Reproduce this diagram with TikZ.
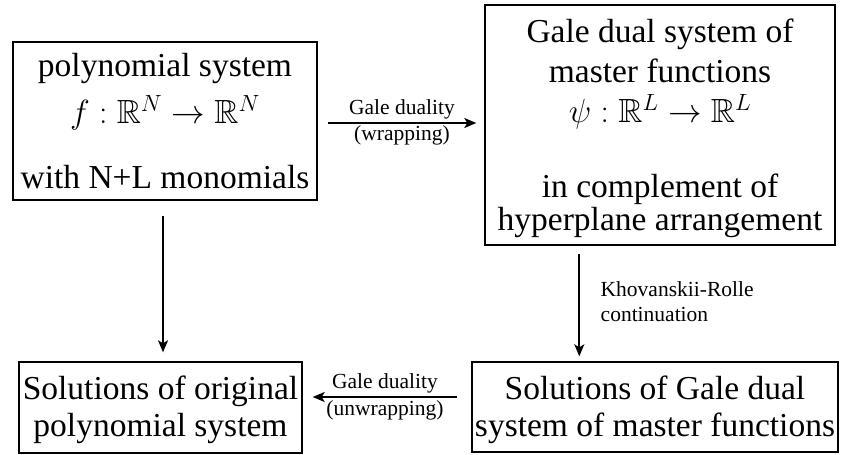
\RequirePackage{fix-cm}
\documentclass[tikz,border=0pt]{standalone}
\usepackage{amsmath,amssymb}
\DeclareFontFamily{U}{msb}{}
\DeclareFontShape{U}{msb}{m}{n}{<-6> msbm5 <6-8> msbm7 <8-> msbm10}{}
\usepackage{fontspec}
\setmainfont{Liberation Serif}
\usetikzlibrary{arrows.meta,positioning,calc}
\tikzset{
  blk/.style={draw,rectangle,line width=1.4pt,align=center,inner sep=2pt,
    font=\fontsize{33.5}{37}\selectfont},
  arr/.style={-{Stealth[length=12pt,width=10pt,inset=3pt]},line width=1.8pt},
  lbl/.style={font=\fontsize{21.5}{25}\selectfont,align=center,inner sep=2.5pt}
}

\begin{document}
\begin{tikzpicture}[x=1pt,y=-1pt]
  \useasboundingbox (0,0) rectangle (846,455);
  % the four boxes
  \node[blk,minimum width=304pt,minimum height=158pt] (poly) at (165,121)
    {polynomial system\\[10pt] $f:\mathbb{R}^N\to\mathbb{R}^N$\\[28pt] with N+L monomials};
  \node[blk,minimum width=350pt,minimum height=240pt] (gale) at (660,125)
    {\rule{0pt}{30pt}Gale dual system of\\[3pt] master functions\\[3pt] $\psi:\mathbb{R}^L\to\mathbb{R}^L$\\[38pt]
     in complement of\\[-4pt] hyperplane arrangement};
  \node[blk,minimum width=283pt,minimum height=91pt] (solp) at (160.5,407.5)
    {\rule{0pt}{29pt}Solutions of original\\ polynomial system};
  \node[blk,minimum width=366pt,minimum height=90pt] (solg) at (655,407)
    {\rule{0pt}{29pt}Solutions of Gale dual\\ system of master functions};

  % connectors
  \draw[arr] ($(poly.east)+(10,2)$) -- ($(gale.west)+(-8,-2)$)
    node[midway,above,lbl] {Gale duality} node[midway,below,lbl,inner sep=1.5pt] {(wrapping)};
  \draw[arr] ($(poly.south)+(-2,15)$) coordinate (down1)
    -- ($(down1 |- solp.north)+(0,-9)$);
  \draw[arr] ($(gale.south west)+(95,8)$) coordinate (down2)
    -- ($(down2 |- solg.north)+(0,-5)$)
    node[pos=0.47,right=18pt,lbl,align=left] {Khovanskii-Rolle\\ continuation};
  \draw[arr] ($(solg.west)+(-14,-10)$) -- ($(solp.east)+(10,-10.5)$)
    node[midway,above,lbl] {Gale duality} node[midway,below,lbl] {(unwrapping)};
\end{tikzpicture}
\end{document}
